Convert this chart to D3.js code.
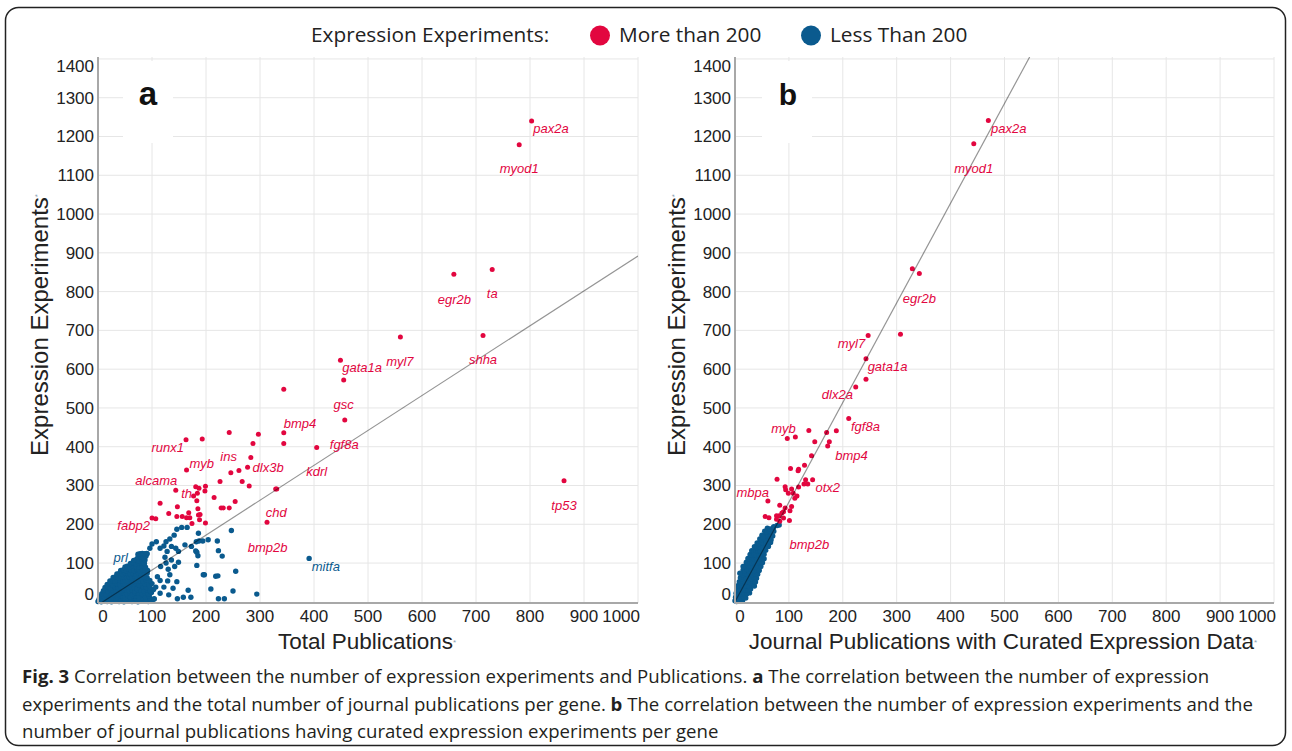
<!DOCTYPE html>
<html><head><meta charset="utf-8">
<script src="https://cdn.jsdelivr.net/npm/d3@7"></script>
<style>body{margin:0;background:#fff}svg{display:block}</style>
</head><body>
<svg id="chart" width="1292" height="751"></svg>
<script>
// ---------------- data ----------------
const yTicks = [0,100,200,300,400,500,600,700,800,900,1000,1100,1200,1300,1400];
const xTicks = [0,100,200,300,400,500,600,700,800,900,1000];
const legendTitle = "Expression Experiments:";
const groupNames = ["More than 200", "Less Than 200"];
const xTitles = ["Total Publications", "Journal Publications with Curated Expression Data"];
const yTitle = "Expression Experiments";
const panelLetters = ["a", "b"];

// panel a: [total publications, expression experiments]
const redA = [[803,1240],[780,1179],[659,845],[730,857],[560,683],[713,687],[449,623],[455,572],[457,469],[405,398],[863,312],
  [344,548],[344,436],[344,408],[243,437],[297,432],[287,408],[193,420],[163,418],[283,372],[277,347],[261,339],[246,333],[164,340],
  [226,310],[267,310],[280,299],[329,291],[144,288],[187,293],[199,298],[198,286],[181,297],[184,280],[177,273],[215,269],[183,261],
  [147,245],[115,254],[131,228],[146,220],[156,220],[168,230],[164,217],[170,217],[185,240],[186,224],[174,202],[199,203],[188,212],
  [228,242],[232,242],[243,242],[254,259],[100,216],[107,214],[313,205],[189,225],[331,291]];
const blueA = [[146,187],[155,192],[165,192],[186,177],[182,155],[194,157],[204,160],[221,157],[247,184],[181,131],[185,119],[223,132],
  [230,118],[255,79],[218,66],[195,70],[209,33],[250,28],[294,20],[223,8],[234,8],[167,30],[172,12],[158,12],[141,172],[133,162],
  [126,155],[122,144],[136,143],[144,138],[149,130],[128,130],[115,138],[108,155],[100,149],[96,138],[91,124],[124,115],[136,108],
  [126,100],[116,91],[130,84],[142,91],[149,102],[133,70],[110,65],[115,55],[129,54],[146,52],[139,35],[122,38],[107,38],[115,22],
  [131,18],[147,8],[104,7],[391,112],[183,94],[161,147],[173,143],[222,67],[197,70],[183,128],[187,157],
  [0,1],[3,3],[6,0],[9,2],[13,4],[17,1],[21,3],[25,0],[30,2],[34,4],[39,1],[44,3],[48,0],[53,2],[58,5],[63,1],[68,3],[74,0],[80,2],[86,4],[93,1],[100,3],
  [2,7],[5,9],[10,6],[14,10],[19,8],[24,7],[28,11],[33,6],[37,9],[42,8],[47,10],[51,7],[56,9],[61,6],[66,11],[71,8],[77,7],[83,10],[89,6],[96,9],[104,8],
  [4,14],[8,16],[12,13],[16,17],[21,15],[26,14],[31,17],[36,13],[41,16],[45,15],[50,14],[55,17],[60,13],[65,16],[70,15],[76,14],[82,17],[88,13],[95,16],
  [7,21],[11,23],[15,20],[20,24],[25,22],[29,21],[34,23],[39,20],[44,24],[49,22],[54,21],[59,23],[64,20],[69,24],[75,22],[81,21],[87,23],[93,20],[99,24],
  [10,29],[14,31],[18,28],[23,32],[28,30],[33,29],[38,31],[43,28],[48,32],[53,30],[58,29],[63,31],[68,28],[73,32],[79,30],[85,29],[91,31],[97,28],[103,32],
  [13,37],[18,39],[23,36],[28,40],[32,38],[37,37],[42,39],[47,36],[52,40],[57,38],[62,37],[67,39],[72,36],[78,40],[84,38],[90,37],[96,39],
  [17,45],[22,47],[27,44],[32,48],[36,46],[41,45],[46,47],[51,44],[56,48],[61,46],[66,45],[71,47],[76,44],[82,48],[88,46],[94,45],[100,47],
  [22,54],[27,56],[31,53],[36,57],[41,55],[46,54],[51,56],[56,53],[61,57],[66,55],[71,54],[77,56],[83,53],[89,57],[96,55],
  [28,63],[33,65],[38,62],[43,66],[48,64],[53,63],[58,65],[63,62],[68,66],[73,64],[79,63],[85,65],[91,62],
  [35,72],[40,74],[45,71],[50,75],[55,73],[60,72],[65,74],[70,71],[75,75],[80,73],[86,72],[91,74],
  [42,81],[47,83],[52,80],[57,84],[62,82],[67,81],[72,83],[77,80],[82,84],[87,82],[92,81],
  [50,90],[54,92],[59,89],[64,93],[70,91],[76,90],[82,92],[88,89],
  [60,99],[65,101],[70,98],[75,102],[80,100],[86,99],
  [66,107],[71,109],[76,106],[81,110],[87,108],
  [74,115],[79,117],[84,114],[89,118],
  [78,124],[82,125],[86,124],[90,125],[74,123]];

// panel b: [journal publications with curated expression data, expression experiments]
const redB = [[470,1241],[443,1181],[329,859],[342,847],[247,687],[307,690],[243,627],[243,574],[224,554],[211,473],[188,441],[170,437],
  [137,442],[112,425],[97,421],[148,413],[175,413],[172,402],[142,377],[129,352],[118,342],[117,338],[103,344],[144,315],[131,315],
  [128,304],[135,304],[118,296],[78,316],[93,297],[94,289],[105,291],[108,280],[115,273],[111,267],[99,280],[61,260],[83,249],
  [93,242],[105,246],[102,235],[90,232],[82,222],[77,222],[56,220],[63,217],[101,210],[77,213],[83,208],[87,229],[90,216]];
const blueB = [[0,3],[3,1],[6,4],[10,2],[14,3],
  [1,12],[4,10],[8,13],[12,11],[16,12],[20,10],
  [2,22],[5,21],[9,23],[13,20],[17,22],[22,21],[27,23],
  [4,32],[7,30],[11,33],[15,31],[19,32],[24,30],[29,33],
  [6,42],[9,40],[13,43],[17,41],[21,42],[26,40],[31,43],[36,41],
  [8,52],[11,50],[15,53],[19,51],[23,52],[28,50],[33,53],[38,51],
  [10,62],[13,60],[17,63],[21,61],[25,62],[30,60],[35,63],[40,61],
  [12,72],[15,70],[19,73],[23,71],[27,72],[32,70],[37,73],[42,71],
  [15,82],[18,80],[22,83],[26,81],[30,82],[35,80],[40,83],[45,81],
  [18,92],[21,90],[25,93],[29,91],[33,92],[38,90],[43,93],[48,91],
  [21,102],[24,100],[28,103],[32,101],[36,102],[41,100],[46,103],[51,101],
  [24,112],[28,110],[32,113],[36,111],[40,112],[45,110],[50,113],[54,111],
  [28,122],[32,120],[36,123],[40,121],[44,122],[49,120],[54,123],
  [31,132],[35,130],[39,133],[43,131],[47,132],[52,130],[57,133],
  [36,142],[40,140],[44,143],[48,141],[52,142],[57,140],[62,143],
  [41,152],[45,150],[49,153],[53,151],[57,152],[62,150],[66,153],
  [46,162],[50,160],[54,163],[58,161],[62,162],[67,160],
  [50,172],[54,170],[58,173],[62,171],[66,172],[70,170],
  [55,182],[59,180],[63,183],[67,181],[72,182],
  [60,190],[65,188],[71,191],[72,194],[82,198],[78,197],[52,167],[9,74],[15,91]];

// gene labels: [name, x value, y value, group(0=red,1=blue)]
const labelsA = [["pax2a",839,1220,0],["myod1",780,1117,0],["egr2b",660,781,0],["ta",730,796,0],["myl7",559,621,0],
  ["shha",713,625,0],["gata1a",489,604,0],["gsc",455,508,0],["fgf8a",456,407,0],["kdrl",405,336,0],["tp53",863,248,0],
  ["bmp4",374,459,0],["runx1",129,398,0],["myb",192,358,0],["ins",242,375,0],["dlx3b",315,347,0],["alcama",108,313,0],
  ["th",164,279,0],["chd",330,230,0],["fabp2",66,198,0],["bmp2b",314,140,0],["prl",42,115,1],["mitfa",422,91,1]];
const labelsB = [["pax2a",508,1222,0],["myod1",443,1118,0],["egr2b",342,783,0],["myl7",216,667,0],["gata1a",283,607,0],
  ["dlx2a",190,534,0],["fgf8a",242,452,0],["myb",90,448,0],["bmp4",216,378,0],["otx2",172,295,0],["mbpa",33,282,0],["bmp2b",138,147,0]];

// linear fits: y = slope * x + intercept
const trendSlope = [0.9, 2.57];
const trendIntercept = [-8, 0];

const captionLines = [
  [["Fig. 3",true],[" Correlation between the number of expression experiments and Publications. ",false],["a",true],[" The correlation between the number of expression",false]],
  [["experiments and the total number of journal publications per gene. ",false],["b",true],[" The correlation between the number of expression experiments and the",false]],
  [["number of journal publications having curated expression experiments per gene",false]]
];

// ---------------- drawing ----------------
const colors = ["#e2063f", "#0a5a8e"];
const svg = d3.select("#chart");
const FONT = "'Liberation Sans', Arial, sans-serif";

svg.append("rect").attr("x",5.5).attr("y",7.5).attr("width",1280).attr("height",738)
  .attr("rx",13).attr("fill","#fff").attr("stroke","#222").attr("stroke-width",1.5);

// legend
const lg = svg.append("g").attr("font-family","'Open Sans', sans-serif").attr("font-size",20.8).attr("fill","#222");
lg.append("text").attr("x",311).attr("y",42).text(legendTitle);
const legX = [[600,619],[811,830]];
groupNames.forEach((n,i)=>{
  lg.append("circle").attr("cx",legX[i][0]).attr("cy",35.5).attr("r",10).attr("fill",colors[i]);
  lg.append("text").attr("x",legX[i][1]).attr("y",42).text(n);
});

const panels = [
  {left:98, right:638, red:redA, blue:blueA, labels:labelsA, letterX:148, boxX:123, titleX:367},
  {left:735, right:1274, red:redB, blue:blueB, labels:labelsB, letterX:788, boxX:762, titleX:1003}
];
const plotTop = 57, plotBottom = 603;

panels.forEach((p,pi)=>{
  const x = d3.scaleLinear().domain([0,1000]).range([p.left,p.right]);
  const y = d3.scaleLinear().domain([-3,1405]).range([plotBottom,plotTop]);
  const g = svg.append("g");
  const clipId = "clip"+pi;
  svg.append("clipPath").attr("id",clipId).append("rect")
    .attr("x",p.left).attr("y",plotTop).attr("width",p.right-p.left).attr("height",plotBottom-plotTop);

  // grid
  g.append("g").selectAll("line").data(yTicks.filter(d=>d>0)).join("line")
    .attr("x1",p.left).attr("x2",p.right).attr("y1",d=>y(d)).attr("y2",d=>y(d))
    .attr("stroke","#e6e6e6").attr("stroke-width",1);
  g.append("g").selectAll("line").data(xTicks.filter(d=>d>0)).join("line")
    .attr("y1",plotTop).attr("y2",plotBottom).attr("x1",d=>x(d)).attr("x2",d=>x(d))
    .attr("stroke","#e6e6e6").attr("stroke-width",1);

  // letter box
  g.append("rect").attr("x",p.boxX).attr("y",plotTop+4).attr("width",50).attr("height",82).attr("fill","#fff");
  g.append("text").attr("x",p.letterX).attr("y",105).attr("text-anchor","middle")
    .attr("font-family",FONT).attr("font-weight","bold").attr("font-size",pi===0?33:30).attr("fill","#111")
    .text(panelLetters[pi]);

  // points
  g.append("g").selectAll("circle").data(p.blue).join("circle")
    .attr("cx",d=>x(d[0])).attr("cy",d=>y(d[1])).attr("r",2.7).attr("fill",colors[1]);
  g.append("g").selectAll("circle").data(p.red).join("circle")
    .attr("cx",d=>x(d[0])).attr("cy",d=>y(d[1])).attr("r",2.5).attr("fill",colors[0]);

  // trend line
  const x1 = Math.min(1000, (1405 - trendIntercept[pi]) / trendSlope[pi]);
  g.append("line").attr("clip-path",`url(#${clipId})`)
    .attr("x1",x(0)).attr("y1",y(trendIntercept[pi]))
    .attr("x2",x(x1)).attr("y2",y(trendSlope[pi]*x1+trendIntercept[pi]))
    .attr("stroke","#000").attr("stroke-opacity",0.42).attr("stroke-width",1.2);

  // gene labels
  g.append("g").selectAll("text").data(p.labels).join("text")
    .attr("x",d=>x(d[1])).attr("y",d=>y(d[2])).attr("dy","0.35em").attr("text-anchor","middle")
    .attr("font-family",FONT).attr("font-style","italic").attr("font-size",13)
    .attr("fill",d=>colors[d[3]]).text(d=>d[0]);

  // axes lines
  g.append("line").attr("x1",p.left).attr("x2",p.left).attr("y1",plotTop).attr("y2",plotBottom)
    .attr("stroke","#a8a8a8").attr("stroke-width",2);
  g.append("line").attr("x1",p.left).attr("x2",p.right).attr("y1",plotBottom).attr("y2",plotBottom)
    .attr("stroke","#a8a8a8").attr("stroke-width",2);

  // tick labels
  g.append("g").selectAll("text").data(yTicks).join("text")
    .attr("x",p.left-4).attr("y",d=>Math.max(66,Math.min(594,y(d)))).attr("dy","0.35em")
    .attr("text-anchor","end").attr("font-family",FONT).attr("font-size",17).attr("fill","#222").text(d=>d);
  g.append("g").selectAll("text").data(xTicks).join("text")
    .attr("x",d=>d===0?x(d)+5:(d===1000?p.right+2:x(d))).attr("y",622)
    .attr("text-anchor",d=>d===1000?"end":"middle").attr("font-family",FONT).attr("font-size",17).attr("fill","#222").text(d=>d);

  // axis titles
  const yt = svg.append("text").attr("transform",`translate(${p.left-50},325) rotate(-90)`)
    .attr("text-anchor","middle").attr("font-family",FONT).attr("font-size",24).attr("fill","#222");
  yt.append("tspan").text(yTitle);
  yt.append("tspan").attr("font-size",8).attr("fill","#8aa0b0").attr("dy",-8).text("*");
  const xt = svg.append("text").attr("x",p.titleX).attr("y",649)
    .attr("text-anchor","middle").attr("font-family",FONT).attr("font-size",22.5).attr("fill","#222");
  xt.append("tspan").text(xTitles[pi]);
  xt.append("tspan").attr("font-size",8).attr("fill","#8aa0b0").attr("dy",-4).text("*");
});

// caption
const cap = svg.append("g").attr("font-family","'Open Sans', sans-serif").attr("font-size",18.6).attr("fill","#231f20");
captionLines.forEach((line,i)=>{
  const t = cap.append("text").attr("x",22).attr("y",683+i*27.5);
  line.forEach(seg=>t.append("tspan").attr("font-weight",seg[1]?"bold":"normal").text(seg[0]));
});
</script>
</body></html>
